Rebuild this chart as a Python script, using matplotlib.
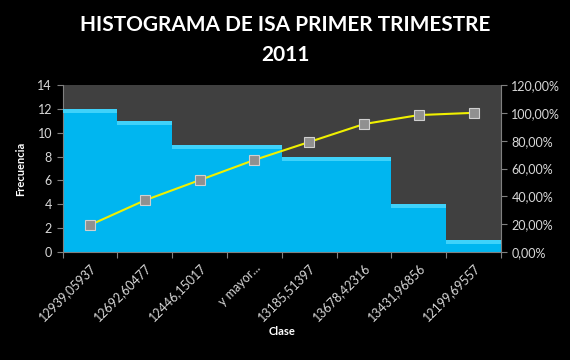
import numpy as np
import matplotlib.pyplot as plt
from matplotlib.ticker import FuncFormatter

# ---------- data ----------
clases = ['12939,05937', '12692,60477', '12446,15017', 'y mayor...',
          '13185,51397', '13678,42316', '13431,96856', '12199,69557']
frecuencia = [12, 11, 9, 9, 8, 8, 4, 1]
acumulado = [0.1935, 0.3710, 0.5161, 0.6613, 0.7903, 0.9194, 0.9839, 1.0]

plt.rcParams['font.family'] = ['Lato', 'DejaVu Sans']

fig = plt.figure(figsize=(5.7, 3.6), dpi=100, facecolor='black')
ax = fig.add_axes([62.5 / 570, 1 - 252 / 360, 438.5 / 570, 167 / 360])
ax.set_facecolor('#404040')

x = np.arange(len(clases))
ax.bar(x, frecuencia, width=1.0, color='#00B6F0', edgecolor='none', zorder=2)
# bevel on top of each bar
ax.bar(x, [0.35] * len(x), bottom=np.array(frecuencia) - 0.35, width=1.0,
       color='#3FD2FA', edgecolor='none', zorder=3)
ax.set_xlim(-0.5, len(clases) - 0.5)
ax.set_ylim(0, 14)
ax.set_yticks(range(0, 15, 2))

ax.set_xticks(np.arange(-0.5, len(clases), 1.0))
ax.set_xticklabels([])
ax.set_xticks(x, minor=True)
ax.set_xticklabels(clases, minor=True, rotation=45, ha='right',
                   rotation_mode='anchor', color='#d8d8d8', fontsize=9)
ax.tick_params(axis='x', which='minor', length=0, pad=7)
ax.tick_params(axis='x', which='major', length=4, color='#808080')
ax.tick_params(axis='y', colors='#d8d8d8', labelsize=9, length=4)
ax.tick_params(axis='y', color='#808080')
for s in ['top', 'right']:
    ax.spines[s].set_visible(False)
for s in ['left', 'bottom']:
    ax.spines[s].set_color('#808080')

ax.set_ylabel('Frecuencia', color='white', fontsize=8, fontweight='bold', labelpad=8)
ax.set_xlabel('Clase', color='white', fontsize=8, fontweight='bold', labelpad=2)

ax2 = ax.twinx()
ax2.plot(x, acumulado, color='#F0F000', lw=1.5, marker='s', ms=7,
         mfc='#909090', mec='#d0d0d0', mew=0.8, zorder=5)
ax2.set_ylim(0, 1.2)
ax2.set_yticks(np.arange(0, 1.21, 0.2))
ax2.yaxis.set_major_formatter(FuncFormatter(lambda v, p: f'{v * 100:.2f}%'.replace('.', ',')))
ax2.tick_params(axis='y', colors='#d8d8d8', labelsize=9, length=4)
ax2.tick_params(axis='y', color='#808080')
for s in ['top', 'left', 'bottom']:
    ax2.spines[s].set_visible(False)
ax2.spines['right'].set_color('#808080')

fig.text(0.5, 1 - 40 / 360, 'HISTOGRAMA DE ISA PRIMER TRIMESTRE\n2011', ha='center', va='center',
         color='white', fontsize=15, fontweight='bold', linespacing=1.6)

fig.savefig('out.png', dpi=100, facecolor='black')
